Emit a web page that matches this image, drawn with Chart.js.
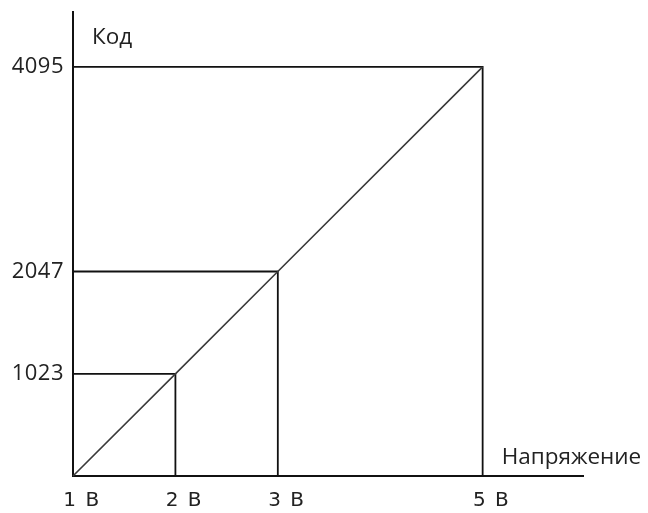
<!DOCTYPE html>
<html>
<head>
<meta charset="utf-8">
<script src="https://cdn.jsdelivr.net/npm/chart.js@4"></script>
<style>
html,body{margin:0;padding:0;background:#fff;}
#wrap{width:648px;height:513px;}
</style>
</head>
<body>
<div id="wrap"><canvas id="c" width="648" height="513"></canvas></div>
<script>
const voltages = [1, 2, 3, 5];
const codes = [0, 1023, 2047, 4095];
const xTickLabels = ['1 В', '2 В', '3 В', '5 В'];
const yTickValues = [1023, 2047, 4095];
const yAxisTitle = 'Код';
const xAxisTitle = 'Напряжение';

const lineColor = '#111';
const textColor = '#222';

const datasets = [];
// diagonal transfer line
datasets.push({
  data: voltages.map((v, i) => ({x: v, y: codes[i]})),
  borderColor: '#3a3a3a',
  borderWidth: 1.6,
  pointRadius: 0,
  showLine: true,
  clip: false
});
// guide lines for each marked point
for (let i = 1; i < voltages.length; i++) {
  datasets.push({
    data: [
      {x: voltages[0], y: codes[i]},
      {x: voltages[i], y: codes[i]},
      {x: voltages[i], y: codes[0]}
    ],
    borderColor: lineColor,
    borderWidth: 1.8,
    pointRadius: 0,
    showLine: true,
    clip: false
  });
}

function spaceLabels(scale, spacing) {
  if (scale._spacedPatch) return;
  const orig = scale.drawLabels;
  scale.drawLabels = function (area) {
    this.ctx.save();
    this.ctx.letterSpacing = spacing;
    orig.call(this, area);
    this.ctx.restore();
  };
  scale._spacedPatch = true;
}

const titlesPlugin = {
  id: 'titles',
  afterDraw(chart) {
    const ctx = chart.ctx;
    const xs = chart.scales.x, ys = chart.scales.y;
    ctx.save();
    ctx.fillStyle = textColor;
    ctx.font = '22.5px "Open Sans"';
    ctx.textAlign = 'left';
    ctx.textBaseline = 'alphabetic';
    ctx.fillText(yAxisTitle, xs.left + 19, ys.top + 32);
    ctx.fillText(xAxisTitle, xs.getPixelForValue(voltages[voltages.length - 1]) + 19, ys.bottom - 12);
    ctx.restore();
  }
};

new Chart(document.getElementById('c'), {
  type: 'scatter',
  data: {datasets},
  options: {
    responsive: false,
    animation: false,
    events: [],
    layout: {padding: {top: 12, right: 65, left: 0, bottom: 0}},
    plugins: {legend: {display: false}, tooltip: {enabled: false}},
    scales: {
      x: {
        type: 'linear',
        min: 1,
        max: 5.98,
        grid: {display: false, drawTicks: false},
        border: {display: true, color: lineColor, width: 2},
        afterBuildTicks(s) { s.ticks = voltages.map(v => ({value: v})); },
        afterFit(s) { s.height = 37; s.paddingLeft = 0; s.paddingRight = 0; spaceLabels(s, '1.5px'); },
        ticks: {
          autoSkip: false,
          maxRotation: 0,
          padding: 13,
          labelOffset: 9,
          color: textColor,
          font: {family: '"DejaVu Sans"', size: 20},
          callback(v) { const i = voltages.indexOf(v); return i >= 0 ? xTickLabels[i] : ''; }
        }
      },
      y: {
        type: 'linear',
        min: 0,
        max: 4645,
        grid: {display: false, drawTicks: false},
        border: {display: true, color: lineColor, width: 2},
        afterBuildTicks(s) { s.ticks = yTickValues.map(v => ({value: v})); },
        afterFit(s) { s.width = 73; s.paddingTop = 0; s.paddingBottom = 0; spaceLabels(s, '0.5px'); },
        ticks: {
          autoSkip: false,
          padding: 9,
          color: textColor,
          font: {family: '"Open Sans"', size: 22},
          callback(v) { return String(v); }
        }
      }
    }
  },
  plugins: [titlesPlugin]
});
</script>
</body>
</html>
